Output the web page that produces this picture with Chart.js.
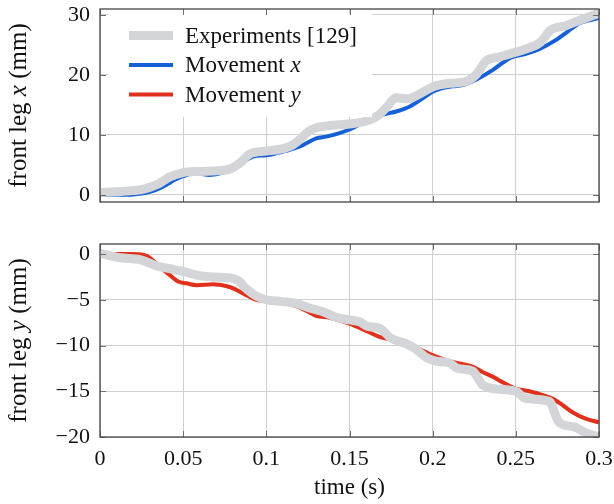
<!DOCTYPE html>
<html>
<head>
<meta charset="utf-8">
<script src="https://cdn.jsdelivr.net/npm/chart.js@4.4.1/dist/chart.umd.min.js"></script>
<style>
  html, body { margin: 0; padding: 0; background: #fff; }
  #wrap { position: relative; width: 614px; height: 504px; }
  .box { position: absolute; left: 0; width: 614px; }
</style>
</head>
<body>
<div id="wrap">
  <div class="box" style="top:0;height:215px"><canvas id="topChart"></canvas></div>
  <div class="box" style="top:230px;height:274px"><canvas id="bottomChart"></canvas></div>
</div>
<script>
"use strict";

// time axis ticks (s)
const timeTicks = [0, 0.05, 0.1, 0.15, 0.2, 0.25, 0.3];
const xTicks = [0, 10, 20, 30];
const yTicks = [0, -5, -10, -15, -20];

// experiments [129], front leg x (mm)
const expXTime = [0, 0.01, 0.02, 0.027, 0.035, 0.042, 0.05, 0.06, 0.07, 0.078, 0.085, 0.09, 0.1, 0.108, 0.115, 0.12, 0.125, 0.13, 0.14, 0.15, 0.16, 0.167, 0.172, 0.178, 0.185, 0.192, 0.2, 0.21, 0.22, 0.226, 0.232, 0.24, 0.25, 0.258, 0.265, 0.271, 0.28, 0.29, 0.3];
const expXVals = [0.4, 0.5, 0.7, 1.0, 1.8, 3.0, 3.7, 3.9, 4.0, 4.3, 5.5, 6.8, 7.3, 7.6, 8.2, 9.2, 10.5, 11.2, 11.6, 11.8, 12.3, 13.2, 14.5, 16.2, 16.0, 16.8, 18.0, 18.6, 18.9, 20.0, 22.3, 23.0, 23.8, 24.5, 25.5, 27.5, 28.2, 29.3, 30.3];

// simulated movement x
const movXTime = [0, 0.01, 0.02, 0.025, 0.03, 0.035, 0.04, 0.045, 0.05, 0.057, 0.066, 0.074, 0.082, 0.087, 0.092, 0.1, 0.107, 0.114, 0.122, 0.13, 0.136, 0.143, 0.15, 0.158, 0.166, 0.172, 0.178, 0.186, 0.194, 0.2, 0.206, 0.212, 0.218, 0.226, 0.236, 0.242, 0.247, 0.256, 0.264, 0.274, 0.281, 0.288, 0.294, 0.3];
const movXVals = [0, 0, 0.05, 0.2, 0.5, 1.0, 1.7, 2.5, 3.1, 3.6, 3.3, 3.7, 4.7, 5.6, 6.4, 6.6, 7.0, 7.5, 8.3, 9.4, 9.7, 10.2, 10.9, 12.0, 13.0, 13.5, 13.9, 14.7, 16.1, 17.2, 17.8, 18.1, 18.3, 19.2, 20.8, 22.0, 22.9, 23.5, 24.3, 25.8, 27.2, 28.6, 29.1, 29.5];

// experiments [129], front leg y (mm)
const expYTime = [0, 0.012, 0.024, 0.034, 0.042, 0.05, 0.058, 0.068, 0.078, 0.083, 0.088, 0.094, 0.1, 0.11, 0.118, 0.126, 0.134, 0.142, 0.15, 0.156, 0.161, 0.168, 0.175, 0.184, 0.19, 0.196, 0.202, 0.21, 0.215, 0.224, 0.23, 0.236, 0.25, 0.256, 0.27, 0.276, 0.285, 0.293, 0.3];
const expYVals = [0.1, -0.4, -0.6, -1.3, -1.6, -1.9, -2.3, -2.5, -2.6, -2.9, -3.8, -4.6, -5.0, -5.2, -5.4, -5.9, -6.3, -6.9, -7.2, -7.4, -7.9, -8.1, -9.2, -9.8, -10.4, -11.3, -11.7, -11.9, -12.5, -12.8, -14.3, -14.7, -15.0, -15.8, -16.1, -18.4, -18.9, -19.6, -20.0];

// simulated movement y
const movYTime = [0, 0.01, 0.02, 0.025, 0.029, 0.036, 0.042, 0.047, 0.052, 0.058, 0.068, 0.078, 0.086, 0.094, 0.104, 0.112, 0.118, 0.124, 0.13, 0.138, 0.15, 0.16, 0.168, 0.176, 0.184, 0.191, 0.198, 0.205, 0.212, 0.224, 0.23, 0.236, 0.243, 0.25, 0.258, 0.264, 0.272, 0.278, 0.284, 0.292, 0.3];
const movYVals = [0, 0, 0, -0.05, -0.3, -1.4, -2.3, -3.0, -3.2, -3.4, -3.3, -3.6, -4.3, -5.0, -5.15, -5.4, -5.7, -6.2, -6.75, -6.97, -7.6, -8.4, -9.05, -9.4, -9.8, -10.3, -10.9, -11.4, -11.8, -12.3, -12.9, -13.4, -14.1, -14.7, -15.0, -15.3, -15.8, -16.5, -17.3, -18.0, -18.4];

const GRAY = '#d3d5d8';
const BLUE = '#1560d6';
const RED = '#e1301c';
const FONT = "'Liberation Serif', 'DejaVu Serif', serif";

// legend entries: [label, italic part, colour, line width]
const legendItems = [
    ['Experiments [129]', '', GRAY, 9],
    ['Movement ', 'x', BLUE, 4],
    ['Movement ', 'y', RED, 4]
];

Chart.defaults.font.family = FONT;
Chart.defaults.font.size = 22;
Chart.defaults.color = '#111';

function toPoints(ts, vs) {
    return ts.map((t, i) => ({ x: t, y: vs[i] }));
}

// draws text made of upright/italic pieces, starting at x
function drawParts(ctx, parts, x, y, size) {
    parts.forEach(p => {
        ctx.font = (p[1] ? 'italic ' : '') + size + 'px ' + FONT;
        ctx.fillText(p[0], x, y);
        x += ctx.measureText(p[0]).width;
    });
}
function partsWidth(ctx, parts, size) {
    let w = 0;
    parts.forEach(p => {
        ctx.font = (p[1] ? 'italic ' : '') + size + 'px ' + FONT;
        w += ctx.measureText(p[0]).width;
    });
    return w;
}

// frame, inner tick marks, y label and (optional) legend / x label
const framePlugin = {
    id: 'framePlugin',
    afterDraw(chart, args, opts) {
        const ctx = chart.ctx;
        const a = chart.chartArea;
        ctx.save();

        if (opts.legend) {
            ctx.fillStyle = '#fff';
            ctx.fillRect(108, 14, 264, 103);
            ctx.textBaseline = 'middle';
            legendItems.forEach((it, i) => {
                const y = 35.5 + i * 29.5;
                ctx.strokeStyle = it[2];
                ctx.lineWidth = it[3];
                ctx.beginPath();
                ctx.moveTo(129, y);
                ctx.lineTo(173, y);
                ctx.stroke();
                ctx.fillStyle = '#111';
                drawParts(ctx, [[it[0], false], [it[1], true]], 185, y + 1, 23);
            });
        }

        // tick marks on all four sides
        ctx.strokeStyle = '#6e6e6e';
        ctx.lineWidth = 1;
        const tl = 6;
        chart.scales.x.ticks.forEach(t => {
            const px = Math.round(chart.scales.x.getPixelForValue(t.value)) + 0.5;
            ctx.beginPath();
            ctx.moveTo(px, a.bottom); ctx.lineTo(px, a.bottom - tl);
            ctx.moveTo(px, a.top); ctx.lineTo(px, a.top + tl);
            ctx.stroke();
        });
        chart.scales.y.ticks.forEach(t => {
            const py = Math.round(chart.scales.y.getPixelForValue(t.value)) + 0.5;
            ctx.beginPath();
            ctx.moveTo(a.left, py); ctx.lineTo(a.left + tl, py);
            ctx.moveTo(a.right, py); ctx.lineTo(a.right - tl, py);
            ctx.stroke();
        });

        ctx.strokeStyle = '#444';
        ctx.lineWidth = 1.3;
        ctx.strokeRect(a.left, a.top, a.right - a.left, a.bottom - a.top);

        // rotated y axis title
        ctx.fillStyle = '#111';
        ctx.textBaseline = 'middle';
        const w = partsWidth(ctx, opts.yTitle, 25);
        ctx.translate(19, (a.top + a.bottom) / 2);
        ctx.rotate(-Math.PI / 2);
        drawParts(ctx, opts.yTitle, -w / 2, 0, 25);
        ctx.setTransform(1, 0, 0, 1, 0, 0);

        if (opts.xTitle) {
            ctx.font = '23px ' + FONT;
            ctx.textAlign = 'center';
            ctx.fillText(opts.xTitle, (a.left + a.right) / 2, 258);
        }
        ctx.restore();
    }
};

function makeChart(id, datasets, yMin, yMax, yTickVals, showX, pluginOpts, padBottom) {
    const fixTicks = vals => scale => { scale.ticks = vals.map(v => ({ value: v })); };
    return new Chart(document.getElementById(id), {
        type: 'line',
        data: { datasets: datasets },
        plugins: [framePlugin],
        options: {
            responsive: true,
            maintainAspectRatio: false,
            animation: false,
            layout: { padding: { top: pluginOpts.padTop, right: 15, bottom: padBottom, left: 0 } },
            elements: { point: { radius: 0 } },
            plugins: {
                legend: { display: false },
                tooltip: { enabled: false },
                framePlugin: pluginOpts
            },
            scales: {
                x: {
                    type: 'linear',
                    min: 0,
                    max: 0.3,
                    afterBuildTicks: fixTicks(timeTicks),
                    afterFit: s => {
                        s.height = showX ? 67 : 0;
                        s.paddingLeft = 0; s.paddingRight = 0;
                    },
                    grid: { color: '#cfcfcf', lineWidth: 1, drawTicks: false },
                    border: { display: false },
                    ticks: {
                        display: showX,
                        padding: 9,
                        maxRotation: 0,
                        font: { size: 22 },
                        callback: v => String(v)
                    }
                },
                y: {
                    min: yMin,
                    max: yMax,
                    afterBuildTicks: fixTicks(yTickVals),
                    afterFit: s => {
                        s.width = 100;
                        s.paddingTop = 0; s.paddingBottom = 0;
                    },
                    grid: { color: '#cfcfcf', lineWidth: 1, drawTicks: false },
                    border: { display: false },
                    ticks: {
                        padding: 10,
                        font: { size: 22 },
                        callback: v => (v < 0 ? '\u2212' + Math.abs(v) : String(v))
                    }
                }
            }
        }
    });
}

makeChart('topChart', [
    { label: 'Experiments [129]', data: toPoints(expXTime, expXVals), borderColor: GRAY, borderWidth: 9, cubicInterpolationMode: 'monotone', borderCapStyle: 'butt' },
    { label: 'Movement x', data: toPoints(movXTime, movXVals), borderColor: BLUE, borderWidth: 4, cubicInterpolationMode: 'monotone' }
], -1.2, 31, xTicks, false,
   { legend: true, padTop: 9, yTitle: [['front leg ', false], ['x', true], [' (mm)', false]] }, 13);

makeChart('bottomChart', [
    { label: 'Experiments [129]', data: toPoints(expYTime, expYVals), borderColor: GRAY, borderWidth: 9, cubicInterpolationMode: 'monotone', borderCapStyle: 'butt' },
    { label: 'Movement y', data: toPoints(movYTime, movYVals), borderColor: RED, borderWidth: 4, cubicInterpolationMode: 'monotone' }
], -20, 1.1, yTicks, true,
   { legend: false, padTop: 14, yTitle: [['front leg ', false], ['y', true], [' (mm)', false]], xTitle: 'time (s)' }, 0);
</script>
</body>
</html>
